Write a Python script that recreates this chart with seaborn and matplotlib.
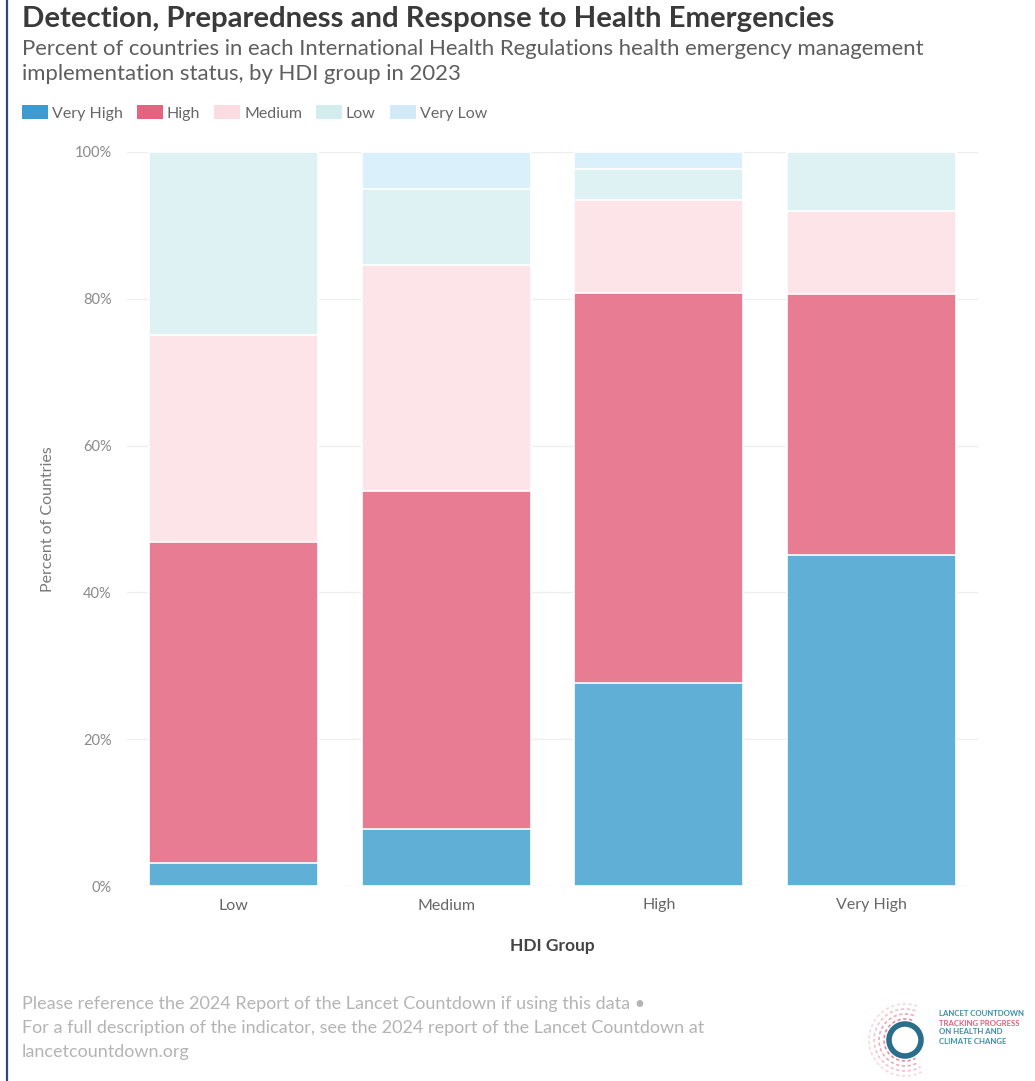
import matplotlib
matplotlib.use("Agg")
import matplotlib.pyplot as plt
from matplotlib.patches import Patch, Circle, Arc
from matplotlib.lines import Line2D
from matplotlib.ticker import FuncFormatter
import numpy as np
import pandas as pd
import seaborn as sns

# HDI groups and the share of countries (%) in each IHR implementation status
hdi_groups = ["Low", "Medium", "High", "Very High"]
status_levels = ["Very High", "High", "Medium", "Low", "Very Low"]
very_high = [3.1, 7.7, 27.6, 45.1]
high = [43.7, 46.1, 53.2, 35.5]
medium = [28.2, 30.8, 12.7, 11.3]
low = [25.0, 10.3, 4.2, 8.1]
very_low = [0.0, 5.1, 2.3, 0.0]

bar_colors = ["#5FAFD7", "#E77C92", "#FDE4E9", "#DEF2F3", "#DAF0FA"]
legend_colors = ["#3E9BD1", "#E4637F", "#FBDCE3", "#D3EDEF", "#D2EAF8"]

sns.set_theme(style="white")
plt.rcParams["font.family"] = ["Lato", "DejaVu Sans"]

df = pd.DataFrame({
    "HDI Group": hdi_groups,
    "Very High": very_high,
    "High": high,
    "Medium": medium,
    "Low": low,
    "Very Low": very_low,
})
# cumulative heights for layered (stacked) bars
cum = df[status_levels].cumsum(axis=1)

fig = plt.figure(figsize=(10.35, 10.81), dpi=100)
ax = fig.add_axes([127 / 1035, 1 - 886 / 1081, (978 - 127) / 1035, (886 - 152) / 1081])

for level, color in reversed(list(zip(status_levels, bar_colors))):
    sns.barplot(x=df["HDI Group"], y=cum[level], order=hdi_groups, color=color,
                width=0.795, edgecolor="white", linewidth=1.2, saturation=1,
                ax=ax, zorder=2)

ax.set_ylim(0, 100)
ax.set_xlim(-0.5, 3.5)
ax.set_yticks([0, 20, 40, 60, 80, 100])
ax.yaxis.set_major_formatter(FuncFormatter(lambda v, _: f"{v:.0f}%"))
ax.grid(axis="y", color="#EEEEEE", linewidth=0.9, zorder=0)
ax.set_axisbelow(True)
for s in ax.spines.values():
    s.set_visible(False)
ax.tick_params(axis="both", length=0)
ax.tick_params(axis="y", pad=11, labelsize=10.5, labelcolor="#8A8A8A")
ax.tick_params(axis="x", pad=9, labelsize=11.5, labelcolor="#666666")
ax.set_ylabel("Percent of Countries", fontsize=11.5, color="#7A7A7A", labelpad=14)
ax.set_xlabel("HDI Group", fontsize=12.5, color="#444444", fontweight="bold", labelpad=18)

# heading
fig.text(22 / 1035, 1 - 19 / 1081, "Detection, Preparedness and Response to Health Emergencies",
         fontsize=21.2, fontweight="bold", color="#3A3A3A", va="center", ha="left")
fig.text(22 / 1035, 1 - 49 / 1081,
         "Percent of countries in each International Health Regulations health emergency management",
         fontsize=15.9, color="#5E5E5E", va="center", ha="left")
fig.text(22 / 1035, 1 - 74 / 1081, "implementation status, by HDI group in 2023",
         fontsize=15.9, color="#5E5E5E", va="center", ha="left")

# legend
handles = [Patch(facecolor=c, edgecolor="none", label=l) for l, c in zip(status_levels, legend_colors)]
fig.legend(handles=handles, loc="center left", bbox_to_anchor=(8 / 1035, 1 - 113 / 1081),
           ncol=5, frameon=False, fontsize=11.5, handlelength=1.6, handleheight=0.9,
           handletextpad=0.25, columnspacing=0.9, labelcolor="#666666")

# footer notes
footer = ["Please reference the 2024 Report of the Lancet Countdown if using this data \u2022",
          "For a full description of the indicator, see the 2024 report of the Lancet Countdown at",
          "lancetcountdown.org"]
for i, line in enumerate(footer):
    fig.text(22 / 1035, 1 - (1004 + 24 * i) / 1081, line, fontsize=13, color="#B4B4B4",
             va="center", ha="left")

# Lancet Countdown badge
logo = fig.add_axes([860 / 1035, 1 - 1078 / 1081, 170 / 1035, 80 / 1081])
logo.set_xlim(0, 170)
logo.set_ylim(0, 80)
logo.set_aspect("equal")
logo.axis("off")
cx, cy = 45, 38
logo.add_patch(Circle((cx, cy), 16, fill=False, edgecolor="#2A6E8C", linewidth=4))
for r, col in [(21, "#E58FA6"), (26, "#EDAABA"), (31, "#F2C2CE"), (36, "#F7D9E0")]:
    logo.add_patch(Arc((cx, cy), 2 * r, 2 * r, theta1=70, theta2=300, edgecolor=col,
                       linewidth=1.2, linestyle=(0, (2, 1.5))))
for j, (txt, col) in enumerate([("LANCET COUNTDOWN", "#3C8FA8"), ("TRACKING PROGRESS", "#E0607C"),
                                ("ON HEALTH AND", "#3C8FA8"), ("CLIMATE CHANGE", "#3C8FA8")]):
    logo.text(79, 64 - 9 * j, txt, fontsize=5.6, color=col, fontweight="bold", va="center", ha="left")

# left frame line
fig.add_artist(Line2D([7 / 1035, 7 / 1035], [0, 1], transform=fig.transFigure,
                      color="#2E4A86", linewidth=1.6))

fig.savefig("out.png", dpi=100, facecolor="white")
